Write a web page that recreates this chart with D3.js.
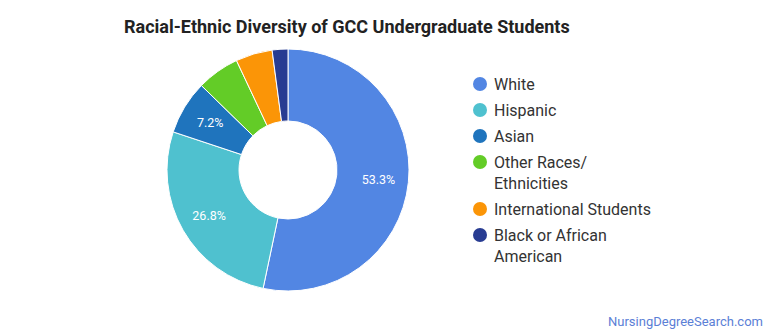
<!DOCTYPE html>
<html><head><meta charset="utf-8">
<script src="https://cdn.jsdelivr.net/npm/d3@7"></script>
<style>body{margin:0;background:#fff;}svg{display:block;font-family:Roboto,"Noto Sans",sans-serif;}</style>
</head><body>
<svg id="c" width="770" height="335"></svg>
<script>
const categories = ["White","Hispanic","Asian","Other Races/ Ethnicities","International Students","Black or African American"];
const legendLines = [["White"],["Hispanic"],["Asian"],["Other Races/","Ethnicities"],["International Students"],["Black or African","American"]];
const values = [53.3, 26.8, 7.2, 5.7, 4.9, 2.1];
const colors = ["#5286e3","#4fc1cf","#1f74bd","#63cc27","#fb9507","#283c92"];
const labelMin = 7;

const svg = d3.select("#c");
svg.append("text").attr("x",124).attr("y",33).attr("font-size",18).attr("font-weight","bold")
  .attr("fill","#222").text("Racial-Ethnic Diversity of GCC Undergraduate Students");

const cx = 288, cy = 170, rOut = 121, rIn = 49;
const pie = d3.pie().sort(null).value(d=>d);
const arcs = pie(values);
const arc = d3.arc().innerRadius(rIn).outerRadius(rOut);
const labelArc = d3.arc().innerRadius(91).outerRadius(91);
const g = svg.append("g").attr("transform",`translate(${cx},${cy})`);
g.selectAll("path").data(arcs).join("path")
  .attr("d",arc).attr("fill",(d,i)=>colors[i]).attr("stroke","#fff").attr("stroke-width",1);
g.selectAll("text").data(arcs.filter(d=>d.data>=labelMin)).join("text")
  .attr("transform",d=>`translate(${labelArc.centroid(d)})`)
  .attr("text-anchor","middle").attr("dy","0.35em").attr("font-size",12.5).attr("fill","#fff")
  .text(d=>d.data.toFixed(1)+"%");

const lg = svg.append("g");
let y = 84;
legendLines.forEach((lines,i)=>{
  lg.append("circle").attr("cx",480).attr("cy",y).attr("r",7).attr("fill",colors[i]);
  const t = lg.append("text").attr("x",494).attr("y",y).attr("font-size",16).attr("fill","#333");
  lines.forEach((ln,j)=>{
    t.append("tspan").attr("x",494).attr("dy",j===0?"0.35em":"21").text(ln);
  });
  y += 26 + (lines.length-1)*21;
});

svg.append("text").attr("x",763).attr("y",326).attr("text-anchor","end").attr("font-size",13)
  .attr("fill","#5b80d6").text("NursingDegreeSearch.com");
</script>
</body></html>
